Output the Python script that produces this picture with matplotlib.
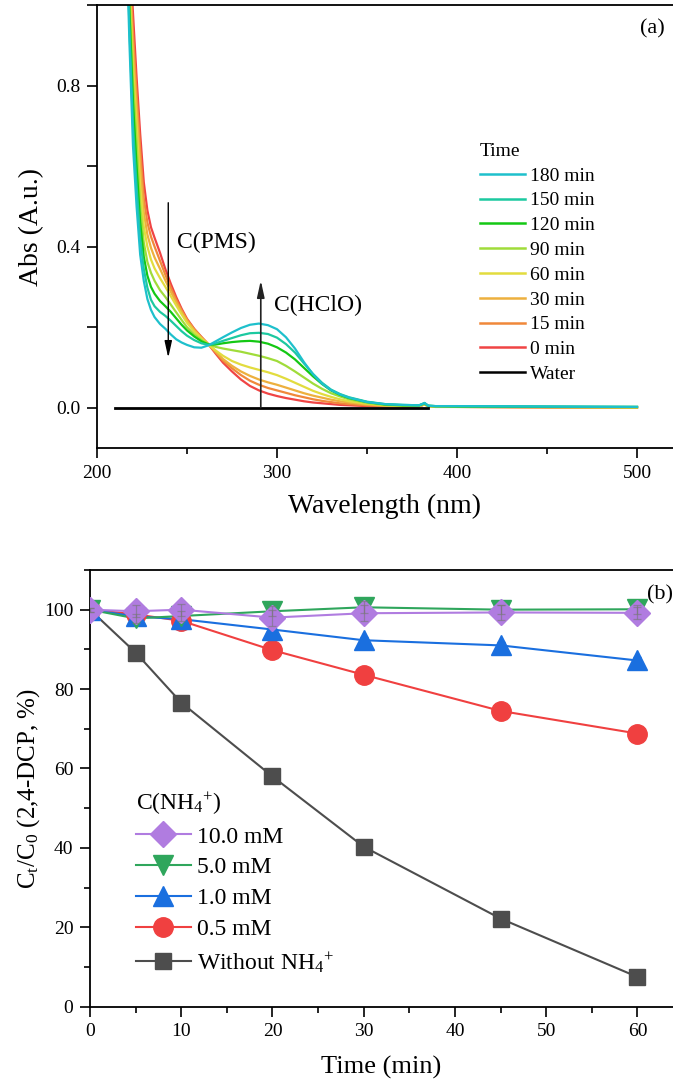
import matplotlib
matplotlib.use("Agg")
import matplotlib.pyplot as plt
from matplotlib.lines import Line2D
from matplotlib.ticker import MultipleLocator, FormatStrFormatter

plt.rcParams["font.family"] = ["Liberation Serif", "DejaVu Serif"]
plt.rcParams["mathtext.fontset"] = "custom"
plt.rcParams["mathtext.rm"] = "Liberation Serif"
plt.rcParams["mathtext.it"] = "Liberation Serif:italic"

# ─────────────────────────────────────────────
# DATA  panel (a): UV-vis spectra
# ─────────────────────────────────────────────
wavelength = [216, 218, 220, 222, 224, 226, 228, 230, 232, 235, 238, 241,
              244, 247, 250, 254, 258, 262, 266, 270, 275, 280, 285, 290,
              295, 300, 305, 310, 315, 320, 325, 330, 335, 340, 350, 360,
              370, 379, 382, 384, 388, 400, 450, 500]

abs_0 = [1.30, 1.14, 0.98, 0.82, 0.68, 0.56, 0.490, 0.448, 0.422, 0.385, 0.344, 0.308,
         0.275, 0.246, 0.221, 0.196, 0.176, 0.157, 0.134, 0.112, 0.090, 0.070, 0.054, 0.043,
         0.035, 0.029, 0.024, 0.020, 0.016, 0.013, 0.011, 0.009, 0.007, 0.006, 0.004, 0.003,
         0.003, 0.004, 0.008, 0.004, 0.002, 0.002, 0.001, 0.000]
abs_15 = [1.29, 1.11, 0.93, 0.78, 0.64, 0.52, 0.460, 0.425, 0.400, 0.365, 0.330, 0.298,
          0.268, 0.242, 0.219, 0.195, 0.175, 0.157, 0.137, 0.117, 0.098, 0.081, 0.067, 0.057,
          0.049, 0.043, 0.037, 0.031, 0.026, 0.021, 0.017, 0.014, 0.011, 0.009, 0.006, 0.004,
          0.003, 0.004, 0.008, 0.004, 0.002, 0.002, 0.001, 0.001]
abs_30 = [1.28, 1.08, 0.89, 0.74, 0.60, 0.485, 0.430, 0.397, 0.373, 0.345, 0.316, 0.288,
          0.262, 0.238, 0.216, 0.193, 0.174, 0.157, 0.139, 0.121, 0.104, 0.090, 0.079, 0.070,
          0.063, 0.057, 0.050, 0.043, 0.036, 0.030, 0.025, 0.020, 0.016, 0.013, 0.008, 0.005,
          0.004, 0.004, 0.008, 0.004, 0.003, 0.002, 0.001, 0.001]
abs_60 = [1.27, 1.05, 0.85, 0.70, 0.55, 0.45, 0.400, 0.368, 0.346, 0.322, 0.300, 0.277,
          0.254, 0.232, 0.211, 0.189, 0.172, 0.157, 0.142, 0.129, 0.116, 0.107, 0.100, 0.094,
          0.088, 0.081, 0.072, 0.062, 0.052, 0.042, 0.034, 0.027, 0.021, 0.016, 0.010, 0.006,
          0.005, 0.005, 0.009, 0.004, 0.003, 0.003, 0.002, 0.001]
abs_90 = [1.26, 1.02, 0.81, 0.66, 0.50, 0.41, 0.362, 0.335, 0.315, 0.292, 0.275, 0.256,
          0.237, 0.218, 0.200, 0.182, 0.168, 0.157, 0.151, 0.147, 0.143, 0.139, 0.134, 0.129,
          0.123, 0.116, 0.104, 0.090, 0.075, 0.060, 0.047, 0.036, 0.028, 0.021, 0.012, 0.007,
          0.005, 0.005, 0.010, 0.004, 0.003, 0.003, 0.002, 0.001]
abs_120 = [1.25, 0.99, 0.76, 0.60, 0.46, 0.375, 0.328, 0.300, 0.283, 0.265, 0.252, 0.238,
           0.222, 0.206, 0.192, 0.177, 0.165, 0.157, 0.157, 0.160, 0.163, 0.165, 0.166, 0.164,
           0.159, 0.150, 0.137, 0.120, 0.099, 0.078, 0.059, 0.043, 0.032, 0.024, 0.014, 0.008,
           0.006, 0.006, 0.011, 0.005, 0.004, 0.003, 0.002, 0.002]
abs_150 = [1.24, 0.95, 0.70, 0.55, 0.42, 0.345, 0.298, 0.268, 0.252, 0.238, 0.228, 0.216,
           0.203, 0.190, 0.179, 0.168, 0.160, 0.156, 0.160, 0.166, 0.173, 0.180, 0.185, 0.186,
           0.183, 0.174, 0.158, 0.137, 0.110, 0.084, 0.062, 0.045, 0.034, 0.026, 0.015, 0.009,
           0.007, 0.006, 0.011, 0.005, 0.004, 0.004, 0.003, 0.002]
abs_180 = [1.22, 0.91, 0.65, 0.50, 0.38, 0.315, 0.270, 0.243, 0.225, 0.208, 0.196, 0.182,
           0.170, 0.162, 0.156, 0.150, 0.149, 0.155, 0.165, 0.175, 0.187, 0.198, 0.206, 0.209,
           0.205, 0.195, 0.175, 0.147, 0.113, 0.083, 0.060, 0.044, 0.033, 0.025, 0.014, 0.009,
           0.007, 0.006, 0.012, 0.005, 0.004, 0.004, 0.003, 0.002]

water_wl = [210, 250, 300, 350, 384]
water_abs = [0.0, 0.0, 0.0, 0.0, 0.0]

spectra = [abs_0, abs_15, abs_30, abs_60, abs_90, abs_120, abs_150, abs_180]
spec_labels = ["0 min", "15 min", "30 min", "60 min", "90 min", "120 min", "150 min", "180 min"]
spec_colors = ["#F04444", "#F0883A", "#EDB03E", "#E2DC3E", "#A0DC3A", "#14C814", "#1CC9A0", "#1EC0CC"]

# ─────────────────────────────────────────────
# DATA  panel (b): 2,4-DCP removal
# ─────────────────────────────────────────────
time_min = [0, 5, 10, 20, 30, 45, 60]
without_nh4 = [100, 89.2, 76.6, 58.0, 40.3, 22.2, 7.5]
nh4_05 = [100, 98.8, 97.2, 89.8, 83.6, 74.5, 68.8]
nh4_1 = [100, 98.3, 97.6, 95.0, 92.3, 91.0, 87.2]
nh4_5 = [100, 97.8, 98.4, 99.6, 100.6, 100.0, 100.1]
nh4_10 = [100, 99.6, 100.0, 98.0, 99.1, 99.3, 99.2]

err_without = [0.5, 0.8, 0.8, 0.8, 0.8, 0.8, 0.8]
err_05 = [0.5, 0.8, 1.2, 0.8, 0.8, 1.8, 0.8]
err_1 = [0.5, 0.8, 0.8, 0.8, 0.8, 0.8, 0.8]
err_5 = [0.5, 1.2, 1.2, 1.2, 1.5, 1.2, 1.2]
err_10 = [0.5, 1.5, 1.5, 2.0, 2.0, 1.8, 1.5]

# ─────────────────────────────────────────────
# FIGURE
# ─────────────────────────────────────────────
fig = plt.figure(figsize=(6.73, 10.9), dpi=100)
TICK_FS = 14


def style_ticks(ax, y_minor_len):
    ax.tick_params(which="major", direction="out", length=7, width=1.2,
                   labelsize=TICK_FS, pad=5)
    ax.tick_params(axis="x", which="minor", direction="out", length=4, width=1.2)
    ax.tick_params(axis="y", which="minor", direction="out", length=y_minor_len, width=1.2)
    for s in ["left", "bottom", "top"]:
        ax.spines[s].set_linewidth(1.3)
    ax.spines["right"].set_visible(False)   # cut off by the image edge


# ── panel (a) ────────────────────────────────
ax1 = fig.add_axes([0.1441, 0.5890, 0.8559, 0.4064])
for vals, lab, col in zip(spectra, spec_labels, spec_colors):
    ax1.plot(wavelength, vals, color=col, lw=1.6, label=lab)
ax1.plot(water_wl, water_abs, color="black", lw=2.0, label="Water", zorder=3)

ax1.set_xlim(200, 520)
ax1.set_ylim(-0.1, 1.0)
ax1.xaxis.set_major_locator(MultipleLocator(100))
ax1.xaxis.set_minor_locator(MultipleLocator(50))
ax1.yaxis.set_major_locator(MultipleLocator(0.4))
ax1.yaxis.set_minor_locator(MultipleLocator(0.2))
ax1.yaxis.set_major_formatter(FormatStrFormatter("%.1f"))
style_ticks(ax1, 7)
ax1.set_xlabel("Wavelength (nm)", fontsize=20, labelpad=9)
ax1.set_ylabel("Abs (A.u.)", fontsize=20, labelpad=8.5)

# arrows + labels
ax1.annotate("", xy=(239.6, 0.124), xytext=(239.6, 0.509),
             arrowprops=dict(arrowstyle="-|>,head_length=1.0,head_width=0.22",
                             color="black", lw=1.0, shrinkA=0, shrinkB=0))
ax1.annotate("", xy=(291, 0.316), xytext=(291, 0.0),
             arrowprops=dict(arrowstyle="-|>,head_length=1.0,head_width=0.22",
                             color="#222222", lw=1.2, shrinkA=0, shrinkB=0))
ax1.text(244.5, 0.41, "C(PMS)", fontsize=17, va="center", ha="left")
ax1.text(298.5, 0.253, "C(HClO)", fontsize=17, va="center", ha="left")
ax1.text(0.943, 0.968, "(a)", transform=ax1.transAxes, fontsize=16, ha="left", va="top")

handles = [Line2D([0], [0], color=c, lw=1.8) for c in spec_colors[::-1]]
handles.append(Line2D([0], [0], color="black", lw=1.8))
ax1.legend(handles, spec_labels[::-1] + ["Water"], title="Time",
           loc="upper left", bbox_to_anchor=(0.648, 0.711), frameon=False,
           fontsize=14, title_fontsize=14, handlelength=2.3,
           handletextpad=0.25, labelspacing=0.37, borderpad=0,
           alignment="left")

# ── panel (b) ────────────────────────────────
ax2 = fig.add_axes([0.1337, 0.0764, 0.8663, 0.4007])
nh4 = "NH$_\\mathrm{4}$$^\\mathrm{+}$"
series = [
    (without_nh4, err_without, "Without " + nh4, "#4D4D4D", "s", 12, False),
    (nh4_05, err_05, "0.5 mM", "#F04040", "o", 14, False),
    (nh4_1, err_1, "1.0 mM", "#1A6FDF", "^", 14, False),
    (nh4_5, err_5, "5.0 mM", "#2FA65C", "v", 14, True),
    (nh4_10, err_10, "10.0 mM", "#B07CE0", "D", 13, True),
]
leg_handles = []
for vals, err, lab, col, mk, ms, bars_on_top in series:
    ax2.plot(time_min, vals, color=col, lw=1.5, zorder=2)
    ax2.errorbar(time_min, vals, yerr=err, fmt="none", ecolor=col, elinewidth=1.0,
                 capsize=3, capthick=1.0, zorder=2.5)
    ax2.plot(time_min, vals, linestyle="none", marker=mk, ms=ms, color=col,
             markeredgecolor=col, zorder=3)
    if bars_on_top:
        ax2.errorbar(time_min, vals, yerr=err, fmt="none", ecolor="#777777",
                     elinewidth=0.9, capsize=3, capthick=0.9, alpha=0.6, zorder=4)
    leg_handles.append(Line2D([0], [0], color=col, lw=1.5, marker=mk, ms=ms,
                              markeredgecolor=col, label=lab))

ax2.set_xlim(0, 63.9)
ax2.set_ylim(0, 110)
ax2.xaxis.set_major_locator(MultipleLocator(10))
ax2.xaxis.set_minor_locator(MultipleLocator(5))
ax2.yaxis.set_major_locator(MultipleLocator(20))
ax2.yaxis.set_minor_locator(MultipleLocator(10))
style_ticks(ax2, 4)
ax2.set_xlabel("Time (min)", fontsize=19, labelpad=11)
ax2.set_ylabel("C$_\\mathrm{t}$/C$_\\mathrm{0}$ (2,4-DCP, %)", fontsize=18, labelpad=1.5)
ax2.text(0.956, 0.965, "(b)", transform=ax2.transAxes, fontsize=16, ha="left", va="top")

ax2.legend(leg_handles[::-1], [h.get_label() for h in leg_handles[::-1]],
           title="C(" + nh4 + ")", loc="upper left",
           bbox_to_anchor=(0.058, 0.523), frameon=False, fontsize=17,
           title_fontsize=17, handlelength=2.35, handletextpad=0.25,
           labelspacing=0.40, borderpad=0, alignment="left")

fig.savefig("out.png", dpi=100)
